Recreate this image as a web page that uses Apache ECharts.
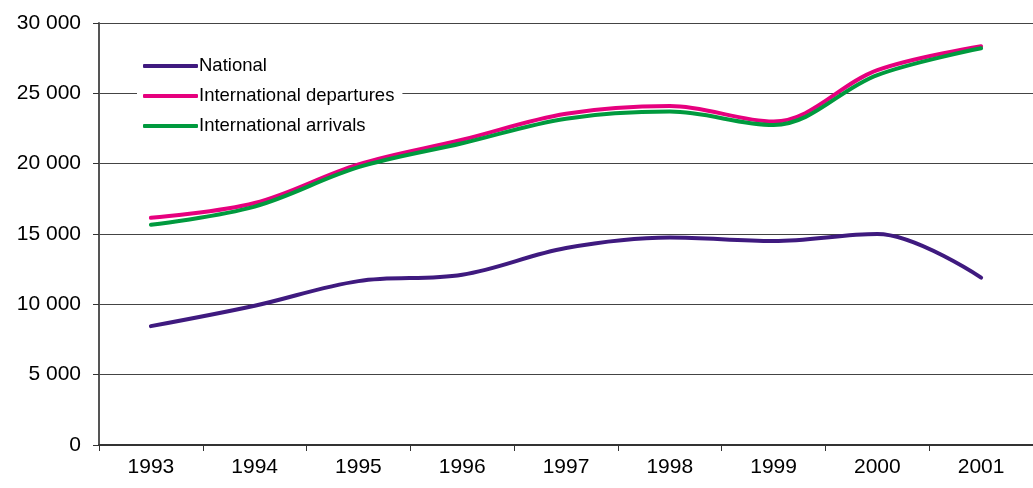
<!DOCTYPE html>
<html>
<head>
<meta charset="utf-8">
<script src="https://cdn.jsdelivr.net/npm/echarts@6/dist/echarts.min.js"></script>
<style>
html,body{margin:0;padding:0;background:#fff;}
#chart{width:1033px;height:488px;}
</style>
</head>
<body>
<div id="chart"></div>
<script>
var years = ['1993','1994','1995','1996','1997','1998','1999','2000','2001'];
var national = [8450, 9900, 11650, 12100, 14000, 14750, 14500, 15000, 11900];
var intlDepartures = [16150, 17200, 19950, 21700, 23550, 24100, 23000, 26650, 28350];
var intlArrivals = [15650, 16950, 19750, 21450, 23200, 23700, 22750, 26300, 28200];
var seriesNames = ['National', 'International departures', 'International arrivals'];
var seriesColors = ['#3f1a7f', '#e6007e', '#009a3e'];

var font = '"Liberation Sans", Arial, sans-serif';
var chart = echarts.init(document.getElementById('chart'));
function mk(name, data, color) {
  return {
    name: name, type: 'line', data: data, smooth: 0.35,
    symbol: 'none', lineStyle: {color: color, width: 4, cap: 'round'},
    itemStyle: {color: color}
  };
}
chart.setOption({
  animation: false,
  backgroundColor: '#fff',
  grid: {left: 99, right: -14, top: 23, bottom: 43, containLabel: false},
  legend: {
    orient: 'vertical', left: 137, top: 53,
    backgroundColor: '#fff', padding: [3, 8, 3, 6],
    itemWidth: 55, itemHeight: 4, itemGap: 10,
    icon: 'roundRect',
    textStyle: {fontFamily: font, fontSize: 18.5, color: '#000', lineHeight: 20, padding: [0,0,0,-4]},
    data: seriesNames
  },
  xAxis: {
    type: 'category', data: years, boundaryGap: true,
    axisLine: {lineStyle: {color: '#333', width: 2}},
    axisTick: {show: true, length: 6, lineStyle: {color: '#333', width: 1}},
    axisLabel: {fontFamily: font, fontSize: 21, color: '#000', margin: 12},
    splitLine: {show: false}
  },
  yAxis: {
    type: 'value', min: 0, max: 30000, interval: 5000,
    axisLine: {show: true, lineStyle: {color: '#555', width: 2}},
    axisTick: {show: true, length: 6, lineStyle: {color: '#333'}},
    axisLabel: {fontFamily: font, fontSize: 21, color: '#000', margin: 18,
      formatter: function (v) { return String(v).replace(/\B(?=(\d{3})+(?!\d))/g, ' '); }},
    splitLine: {show: true, lineStyle: {color: '#444', width: 1}}
  },
  series: [
    mk(seriesNames[0], national, seriesColors[0]),
    mk(seriesNames[1], intlDepartures, seriesColors[1]),
    mk(seriesNames[2], intlArrivals, seriesColors[2])
  ]
});
</script>
</body>
</html>
